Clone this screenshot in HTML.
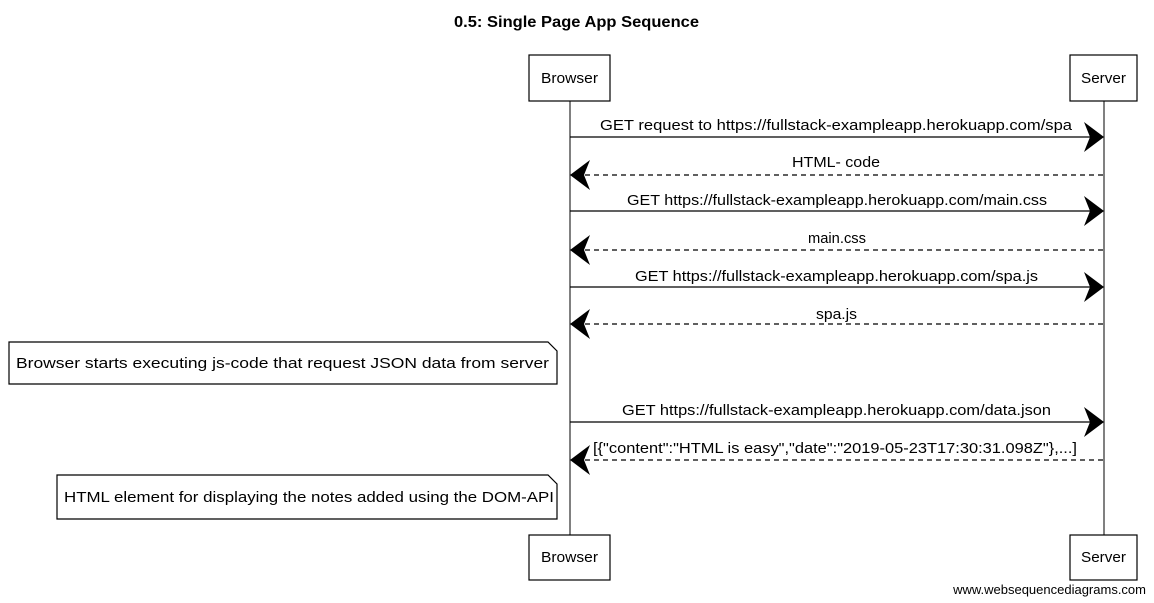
<!DOCTYPE html>
<html><head><meta charset="utf-8"><style>
html,body{margin:0;padding:0;background:#fff;}
svg{display:block;}
text{font-family:"Liberation Sans",sans-serif;fill:#000;}
</style></head><body>
<svg width="1154" height="603" viewBox="0 0 1154 603" xmlns="http://www.w3.org/2000/svg">
<defs>
<path id="ar" d="M0,0 L-20,-15 L-14,0 L-20,15 Z" fill="#000"/>
<path id="al" d="M0,0 L20,-15 L14,0 L20,15 Z" fill="#000"/>
</defs>
<text x="454" y="27" font-size="16" font-weight="bold" textLength="245" lengthAdjust="spacingAndGlyphs">0.5: Single Page App Sequence</text>
<line x1="570" y1="101" x2="570" y2="535" stroke="#000" stroke-width="1"/>
<line x1="1104" y1="101" x2="1104" y2="535" stroke="#000" stroke-width="1"/>
<g fill="#fff" stroke="#000" stroke-width="1.2">
<rect x="529" y="55" width="81" height="46"/>
<rect x="1070" y="55" width="67" height="46"/>
<rect x="529" y="535" width="81" height="45"/>
<rect x="1070" y="535" width="67" height="45"/>
</g>
<g font-size="15" lengthAdjust="spacingAndGlyphs">
<text x="541" y="83" textLength="57" lengthAdjust="spacingAndGlyphs">Browser</text>
<text x="1081" y="83" textLength="45" lengthAdjust="spacingAndGlyphs">Server</text>
<text x="541" y="562" textLength="57" lengthAdjust="spacingAndGlyphs">Browser</text>
<text x="1081" y="562" textLength="45" lengthAdjust="spacingAndGlyphs">Server</text>
</g>
<g stroke="#000" stroke-width="1.3">
<line x1="570" y1="137" x2="1100" y2="137"/>
<line x1="576" y1="175" x2="1104" y2="175" stroke-dasharray="5,4"/>
<line x1="570" y1="211" x2="1100" y2="211"/>
<line x1="576" y1="250" x2="1104" y2="250" stroke-dasharray="5,4"/>
<line x1="570" y1="287" x2="1100" y2="287"/>
<line x1="576" y1="324" x2="1104" y2="324" stroke-dasharray="5,4"/>
<line x1="570" y1="422" x2="1100" y2="422"/>
<line x1="576" y1="460" x2="1104" y2="460" stroke-dasharray="5,4"/>
</g>
<use href="#ar" x="1104" y="137"/>
<use href="#al" x="570" y="175"/>
<use href="#ar" x="1104" y="211"/>
<use href="#al" x="570" y="250"/>
<use href="#ar" x="1104" y="287"/>
<use href="#al" x="570" y="324"/>
<use href="#ar" x="1104" y="422"/>
<use href="#al" x="570" y="460"/>
<g font-size="15">
<text x="600" y="130" textLength="472" lengthAdjust="spacingAndGlyphs">GET request to https://fullstack-exampleapp.herokuapp.com/spa</text>
<text x="792" y="167" textLength="88" lengthAdjust="spacingAndGlyphs">HTML- code</text>
<text x="627" y="205" textLength="420" lengthAdjust="spacingAndGlyphs">GET https://fullstack-exampleapp.herokuapp.com/main.css</text>
<text x="808" y="243" textLength="58" lengthAdjust="spacingAndGlyphs">main.css</text>
<text x="635" y="281" textLength="403" lengthAdjust="spacingAndGlyphs">GET https://fullstack-exampleapp.herokuapp.com/spa.js</text>
<text x="816" y="319" textLength="41" lengthAdjust="spacingAndGlyphs">spa.js</text>
<text x="622" y="415" textLength="429" lengthAdjust="spacingAndGlyphs">GET https://fullstack-exampleapp.herokuapp.com/data.json</text>
<text x="593" y="453" textLength="484" lengthAdjust="spacingAndGlyphs">[{"content":"HTML is easy","date":"2019-05-23T17:30:31.098Z"},...]</text>
</g>
<g fill="#fff" stroke="#000" stroke-width="1.2">
<path d="M9,342 L548,342 L557,351 L557,384 L9,384 Z"/>
<path d="M57,475 L548,475 L557,484 L557,519 L57,519 Z"/>
</g>
<g font-size="15">
<text x="16" y="368" textLength="533" lengthAdjust="spacingAndGlyphs">Browser starts executing js-code that request JSON data from server</text>
<text x="64" y="502" textLength="490" lengthAdjust="spacingAndGlyphs">HTML element for displaying the notes added using the DOM-API</text>
</g>
<text x="1146" y="594" font-size="13" text-anchor="end">www.websequencediagrams.com</text>
</svg>
</body></html>
